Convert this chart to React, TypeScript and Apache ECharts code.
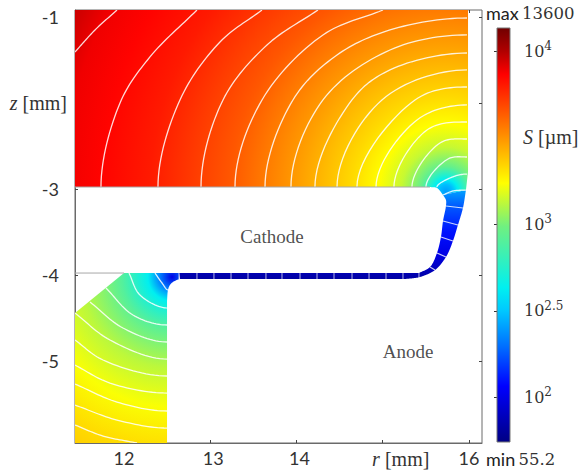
import React, { useEffect, useRef } from "react";
import * as echarts from "echarts";

const SERIF = "'Liberation Serif', serif";
const NUM = "'DejaVu Serif', serif";
const SANS = "Lato, sans-serif";

// colour scale: log10(S) -> colour
const scaleLog = [1.733, 2.064, 2.297, 2.5, 2.634, 2.988, 3.238, 3.547, 3.866, 4.0, 4.14];
const scaleHex = ["#000080", "#0000ff", "#0070ff", "#00c8ff", "#00f0f0", "#70f080", "#ffff00", "#ff8000", "#ff0000", "#b00000", "#6e0000"];

const rTicks = [12, 13, 14, 15, 16];
const zTicks = [-1, -2, -3, -4, -5];
const barTicks = [2, 2.5, 3, 4];
const barMin = 1.742;
const barMax = 4.134;

// region boundaries [r, z] in mm, as chains of boundary points
const upperRegion = [
  [[11.432, -0.919], [15.989, -0.919], [15.989, -2.8]],
  [[15.989, -2.8], [15.965, -3.012]],
  [[15.965, -3.012], [15.699, -3.07]],
  [[15.699, -3.07], [15.629, -2.988], [15.548, -2.977]],
  [[15.548, -2.977], [11.432, -2.977]],
];
const channelRegion = [
  [[15.965, -3.012], [15.93, -3.221], [15.872, -3.419], [15.814, -3.605], [15.733, -3.791], [15.606, -3.942], [15.432, -4.023], [15.258, -4.047]],
  [[15.258, -4.047], [12.649, -4.047]],
  [[12.638, -3.977], [15.42, -3.977]],
  [[15.42, -3.977], [15.548, -3.907], [15.629, -3.744], [15.675, -3.558], [15.699, -3.372], [15.733, -3.198], [15.733, -3.128], [15.699, -3.07]],
];
const lowerRegion = [
  [[12, -3.977], [12.638, -3.977], [12.638, -4.047]],
  [[12.638, -4.047], [12.568, -4.081], [12.533, -4.116], [12.51, -4.174], [12.499, -4.3]],
  [[12.499, -4.3], [12.499, -5.953]],
  [[12.499, -5.953], [11.432, -5.953], [11.432, -4.442]],
];

// S [um] versus distance [mm] from the electrode corner
const upperCentre = [15.733, -3.03];
const upperDistance = [0, 0.08, 0.14, 0.29, 0.52, 0.78, 1.1, 1.69, 2.5, 3.43, 4.0, 4.44, 4.8];
const upperS = [250, 300, 430, 890, 1380, 1740, 2140, 2950, 4470, 6310, 7240, 7800, 9100];
const lowerCentre = [12.557, -4.023];
const lowerDistance = [0, 0.15, 0.28, 0.58, 1.05, 1.51, 1.98, 2.27];
const lowerS = [100, 224, 427, 794, 1318, 1698, 2089, 2291];
const channelZ = [-3.03, -3.2, -3.5, -3.75, -3.95, -4.05];
const channelS = [250, 178, 126, 100, 76, 66];

// white iso-lines [r, z]
const cathodeTopZ = -2.977;
const anodeEdgeR = 15.977;
const upperContours = [
  [[11.432, -1.407], [11.664, -1.151], [11.919, -0.919]],
  [[11.733, -2.977], [11.954, -2.0], [12.301, -1.465], [12.846, -0.919]],
  [[12.394, -2.977], [12.649, -1.965], [13.113, -1.291], [13.6, -0.919]],
  [[12.893, -2.977], [13.148, -1.965], [13.658, -1.326], [14.249, -0.919]],
  [[13.287, -2.977], [13.6, -1.965], [14.307, -1.209], [15.003, -0.919]],
  [[13.635, -2.977], [13.959, -1.965], [14.47, -1.442], [15.084, -1.151], [15.977, -1.012]],
  [[13.936, -2.977], [14.307, -1.965], [15.084, -1.384], [15.977, -1.209]],
  [[14.214, -2.977], [14.643, -1.965], [15.084, -1.616], [15.977, -1.419]],
  [[14.47, -2.977], [14.991, -1.965], [15.977, -1.616]],
  [[14.701, -2.977], [15.374, -1.965], [15.977, -1.814]],
  [[14.922, -2.977], [15.397, -2.198], [15.977, -2.023]],
  [[15.13, -2.977], [15.513, -2.314], [15.977, -2.221]],
  [[15.339, -2.977], [15.664, -2.465], [15.977, -2.419]],
  [[15.501, -2.977], [15.757, -2.651], [15.977, -2.628]],
  [[15.629, -2.977], [15.78, -2.872], [15.977, -2.826]],
  [[15.699, -3.07], [15.814, -3.023], [15.965, -3.012]],
];
const lowerContours = [
  [[12.359, -3.977], [12.441, -4.093], [12.51, -4.174]],
  [[12.058, -3.977], [12.186, -4.233], [12.51, -4.384]],
  [[11.791, -4.151], [12.104, -4.465], [12.499, -4.581]],
  [[11.606, -4.314], [11.988, -4.616], [12.499, -4.779]],
  [[11.432, -4.442], [11.838, -4.756], [12.499, -4.977]],
  [[11.432, -4.756], [11.757, -4.988], [12.499, -5.174]],
  [[11.432, -5.047], [11.838, -5.256], [12.499, -5.372]],
  [[11.432, -5.267], [11.919, -5.477], [12.499, -5.581]],
  [[11.432, -5.512], [11.919, -5.686], [12.499, -5.779]],
  [[11.432, -5.744], [11.757, -5.872], [12.151, -5.953]],
];
const channelContours = [
  [[15.733, -3.198], [15.93, -3.221]],
  [[15.699, -3.372], [15.872, -3.419]],
  [[15.675, -3.558], [15.814, -3.605]],
  [[15.629, -3.744], [15.733, -3.791]],
  [[15.548, -3.907], [15.606, -3.942]],
];
const channelStationsR = [12.638, 12.846, 13.043, 13.241, 13.438, 13.646, 13.832, 14.041, 14.238, 14.435, 14.644, 14.841, 15.038, 15.235, 15.42];
const channelTopZ = -3.977;
const channelBottomZ = -4.047;
const edgeLines = [
  [[11.432, -3.977], [12, -3.977]],
  [[11.432, -2.977], [15.548, -2.977]],
];
const annotations = [
  { name: "Cathode", r: 13.716, z: -3.547 },
  { name: "Anode", r: 15.293, z: -4.895 },
];

function hexToRgb(h: string) {
  return [1, 3, 5].map((i) => parseInt(h.slice(i, i + 2), 16));
}
function colourOfLog(v: number) {
  if (v <= scaleLog[0]) return scaleHex[0];
  for (let i = 1; i < scaleLog.length; i++) {
    if (v <= scaleLog[i]) {
      const t = (v - scaleLog[i - 1]) / (scaleLog[i] - scaleLog[i - 1]);
      const a = hexToRgb(scaleHex[i - 1]);
      const b = hexToRgb(scaleHex[i]);
      return `rgb(${a.map((c, k) => Math.round(c + (b[k] - c) * t)).join(",")})`;
    }
  }
  return scaleHex[scaleHex.length - 1];
}
const colourOfS = (s: number) => colourOfLog(Math.log10(s));

function radialFill(api: any, centre: number[], dist: number[], vals: number[]) {
  const dMax = dist[dist.length - 1];
  const c = api.coord(centre);
  const e = api.coord([centre[0] + dMax, centre[1]]);
  const stops = dist.map((d, i) => ({ offset: d / dMax, color: colourOfS(vals[i]) }));
  return new echarts.graphic.RadialGradient(c[0], c[1], e[0] - c[0], stops, true);
}

// centripetal Catmull-Rom through pixel points, only used to draw a curve through the read points.
// mirrorStartY: the curve leaves its first point vertically; mirrorEndX: it reaches its last point horizontally.
function curveThrough(pts: number[][], mirrorStartY = false, mirrorEndX = false) {
  if (pts.length < 3) return pts.slice();
  const n = pts.length;
  const out: number[][] = [pts[0]];
  const head = mirrorStartY
    ? [pts[1][0], 2 * pts[0][1] - pts[1][1]]
    : [2 * pts[0][0] - pts[1][0], 2 * pts[0][1] - pts[1][1]];
  const tail = mirrorEndX
    ? [2 * pts[n - 1][0] - pts[n - 2][0], pts[n - 2][1]]
    : [2 * pts[n - 1][0] - pts[n - 2][0], 2 * pts[n - 1][1] - pts[n - 2][1]];
  const P = [head, ...pts, tail];
  const tj = (ti: number, a: number[], b: number[]) => ti + Math.sqrt(Math.hypot(b[0] - a[0], b[1] - a[1])) + 1e-6;
  const lerp = (a: number[], b: number[], ta: number, tb: number, t: number) => [
    a[0] + ((b[0] - a[0]) * (t - ta)) / (tb - ta),
    a[1] + ((b[1] - a[1]) * (t - ta)) / (tb - ta),
  ];
  for (let i = 0; i + 3 < P.length; i++) {
    const [p0, p1, p2, p3] = [P[i], P[i + 1], P[i + 2], P[i + 3]];
    const t0 = 0;
    const t1 = tj(t0, p0, p1);
    const t2 = tj(t1, p1, p2);
    const t3 = tj(t2, p2, p3);
    for (let k = 1; k <= 16; k++) {
      const t = t1 + ((t2 - t1) * k) / 16;
      const a1 = lerp(p0, p1, t0, t1, t);
      const a2 = lerp(p1, p2, t1, t2, t);
      const a3 = lerp(p2, p3, t2, t3, t);
      const b1 = lerp(a1, a2, t0, t2, t);
      const b2 = lerp(a2, a3, t1, t3, t);
      out.push(lerp(b1, b2, t1, t2, t));
    }
  }
  return out;
}

const regions = [
  { chains: upperRegion, fill: (api: any) => radialFill(api, upperCentre, upperDistance, upperS) },
  { chains: lowerRegion, fill: (api: any) => radialFill(api, lowerCentre, lowerDistance, lowerS) },
  {
    chains: channelRegion,
    fill: (api: any) => {
      const y0 = api.coord([15, channelZ[0]])[1];
      const y1 = api.coord([15, channelZ[channelZ.length - 1]])[1];
      const span = channelZ[channelZ.length - 1] - channelZ[0];
      const stops = channelZ.map((z, i) => ({ offset: (z - channelZ[0]) / span, color: colourOfS(channelS[i]) }));
      return new echarts.graphic.LinearGradient(0, y0, 0, y1, stops, true);
    },
  },
];

function regionPoints(chains: number[][][], api: any) {
  const out: number[][] = [];
  chains.forEach((ch) => {
    const px = ch.map((p) => api.coord(p));
    const isFrame = ch === upperRegion[0] || ch === lowerRegion[0] || ch === lowerRegion[3];
    out.push(...(isFrame ? px : curveThrough(px)));
  });
  return out;
}

const curves = [...upperContours, ...lowerContours];

function lineSeries(points: number[][], color: string, width: number, opacity = 1) {
  return {
    type: "line",
    xAxisIndex: 0,
    yAxisIndex: 0,
    data: points,
    showSymbol: false,
    symbol: "none",
    silent: true,
    lineStyle: { color, width, opacity },
    z: 5,
  };
}

export default function App() {
  const ref = useRef<HTMLDivElement>(null);
  useEffect(() => {
    document.body.style.margin = "0";
    const chart = echarts.init(ref.current!, undefined, { renderer: "svg" });
    const frame = "#6a6a6a";
    const option: any = {
      animation: false,
      backgroundColor: "#ffffff",
      grid: [
        { left: 75, top: 10, width: 407, height: 433, show: true, borderColor: frame, borderWidth: 1, backgroundColor: "transparent" },
        { left: 497, top: 28, width: 13, height: 414 },
      ],
      xAxis: [
        {
          type: "value", gridIndex: 0, position: "bottom", min: 11.432, max: 16.151,
          splitLine: { show: false },
          axisLine: { show: true, lineStyle: { color: frame } },
          axisTick: { show: true, inside: true, length: 3, customValues: rTicks, lineStyle: { color: "#444" } },
          axisLabel: {
            show: true, customValues: rTicks, margin: 6, color: "#333",
            formatter: (v: number) => (v === 15 ? "{i|r}{m| [mm]}" : v === 13 || v === 14 ? `{o|${v}}` : `{n|${v}}`),
            rich: {
              n: { fontFamily: SANS, fontSize: 18, color: "#333" },
              o: { fontFamily: SANS, fontSize: 18, color: "#333", padding: [0, 0, 0, 6] },
              i: { fontFamily: SERIF, fontStyle: "italic", fontSize: 20, color: "#333", padding: [0, 0, 0, 36] },
              m: { fontFamily: SERIF, fontSize: 20, color: "#333" },
            },
          },
        },
        {
          type: "value", gridIndex: 0, position: "top", min: 11.432, max: 16.151,
          splitLine: { show: false },
          axisLine: { show: false },
          axisTick: { show: true, inside: true, length: 3, customValues: rTicks, lineStyle: { color: "#444" } },
          axisLabel: { show: false },
        },
        { type: "value", gridIndex: 1, min: 0, max: 1, show: false },
      ],
      yAxis: [
        {
          type: "value", gridIndex: 0, position: "left", min: -5.953, max: -0.919,
          splitLine: { show: false },
          axisLine: { show: true, lineStyle: { color: frame } },
          axisTick: { show: true, inside: true, length: 3, customValues: zTicks, lineStyle: { color: "#444" } },
          axisLabel: {
            show: true, customValues: zTicks, margin: 8, color: "#333",
            formatter: (v: number) => (v === -2 ? "{i|z}{m| [mm]}" : `{n|${v}}`),
            rich: {
              n: { fontFamily: SANS, fontSize: 18, color: "#333", padding: [0, 8, 0, 0] },
              i: { fontFamily: SERIF, fontStyle: "italic", fontSize: 20, color: "#333" },
              m: { fontFamily: SERIF, fontSize: 20, color: "#333" },
            },
          },
        },
        {
          type: "value", gridIndex: 0, position: "right", min: -5.953, max: -0.919,
          splitLine: { show: false },
          axisLine: { show: false },
          axisTick: { show: true, inside: true, length: 3, customValues: zTicks, lineStyle: { color: "#444" } },
          axisLabel: { show: false },
        },
        {
          type: "value", gridIndex: 1, position: "right", min: barMin, max: barMax,
          splitLine: { show: false },
          axisLine: { show: false },
          axisTick: { show: true, inside: true, length: 3, customValues: barTicks, lineStyle: { color: "#333" } },
          axisLabel: {
            show: true, customValues: barTicks, margin: 14, color: "#333",
            formatter: (v: number) => `{b|10}{s|${v}}`,
            rich: {
              b: { fontFamily: NUM, fontSize: 16, color: "#333" },
              s: { fontFamily: NUM, fontSize: 12, color: "#333", padding: [0, 0, 10, 0] },
            },
          },
        },
        {
          type: "value", gridIndex: 1, position: "left", min: barMin, max: barMax,
          splitLine: { show: false },
          axisLine: { show: false },
          axisTick: { show: true, inside: true, length: 3, customValues: barTicks, lineStyle: { color: "#333" } },
          axisLabel: { show: false },
        },
      ],
      series: [
        {
          type: "custom",
          xAxisIndex: 0,
          yAxisIndex: 0,
          silent: true,
          clip: false,
          z: 1,
          data: regions.map((_, i) => [i]),
          encode: { x: [], y: [] },
          renderItem: (params: any, api: any) => {
            const reg = regions[params.dataIndex];
            return {
              type: "polygon",
              shape: { points: regionPoints(reg.chains, api) },
              style: { fill: reg.fill(api), stroke: null },
            };
          },
        },
        {
          type: "custom",
          xAxisIndex: 2,
          yAxisIndex: 2,
          silent: true,
          clip: false,
          z: 1,
          data: [[0]],
          encode: { x: [], y: [] },
          renderItem: (_p: any, api: any) => {
            const a = api.coord([0, barMax]);
            const b = api.coord([1, barMin]);
            const span = barMax - barMin;
            const stops = scaleLog
              .filter((v) => v > barMin && v < barMax)
              .map((v) => ({ offset: (barMax - v) / span, color: colourOfLog(v) }))
              .reverse();
            stops.unshift({ offset: 0, color: colourOfLog(barMax) });
            stops.push({ offset: 1, color: colourOfLog(barMin) });
            return {
              type: "rect",
              shape: { x: a[0], y: a[1], width: b[0] - a[0], height: b[1] - a[1] },
              style: {
                fill: new echarts.graphic.LinearGradient(0, 0, 0, 1, stops),
                stroke: "#777",
                lineWidth: 1,
              },
            };
          },
        },
        ...edgeLines.map((l) => lineSeries(l, "#a8a8a8", 1)),
        {
          type: "custom",
          xAxisIndex: 0,
          yAxisIndex: 0,
          silent: true,
          clip: true,
          z: 5,
          data: curves.map((_, i) => [i]),
          encode: { x: [], y: [] },
          renderItem: (params: any, api: any) => {
            const c = curves[params.dataIndex];
            const last = c[c.length - 1];
            const mirrorStart = c[0][1] === cathodeTopZ;
            const mirrorEnd = last[0] === anodeEdgeR || last[0] >= 12.499 && last[0] <= 12.51;
            return {
              type: "polyline",
              shape: { points: curveThrough(c.map((p) => api.coord(p)), mirrorStart, mirrorEnd) },
              style: { fill: null, stroke: "rgba(255,255,255,0.85)", lineWidth: 1.3 },
            };
          },
        },
        ...channelContours.map((l) => lineSeries(l, "#ffffff", 1.2, 0.8)),
        ...channelStationsR.map((r) => lineSeries([[r, channelTopZ], [r, channelBottomZ]], "#ffffff", 1, 0.7)),
        {
          type: "scatter",
          xAxisIndex: 0,
          yAxisIndex: 0,
          symbolSize: 0,
          silent: true,
          z: 6,
          data: annotations.map((a) => ({ value: [a.r, a.z], name: a.name })),
          label: {
            show: true,
            position: "inside",
            formatter: (p: any) => p.name,
            fontFamily: SERIF,
            fontSize: 19,
            color: "#222",
          },
        },
      ],
      graphic: [
        {
          type: "text", x: 486, y: 13,
          style: {
            text: "{a|max} {b|13600}",
            verticalAlign: "middle",
            rich: {
              a: { fontFamily: SANS, fontSize: 18, fill: "#222" },
              b: { fontFamily: NUM, fontSize: 16.5, fill: "#333" },
            },
          },
        },
        {
          type: "text", x: 486, y: 459,
          style: {
            text: "{a|min} {b|55.2}",
            verticalAlign: "middle",
            rich: {
              a: { fontFamily: SANS, fontSize: 18, fill: "#222" },
              b: { fontFamily: NUM, fontSize: 16.5, fill: "#333" },
            },
          },
        },
        {
          type: "text", x: 523, y: 137,
          style: {
            text: "{i|S}{b| [µm]}",
            verticalAlign: "middle",
            rich: {
              i: { fontFamily: SERIF, fontStyle: "italic", fontSize: 20, fill: "#333" },
              b: { fontFamily: SERIF, fontSize: 20, fill: "#333" },
            },
          },
        },
      ],
    };
    chart.setOption(option);
    return () => chart.dispose();
  }, []);
  return <div ref={ref} style={{ width: 581, height: 471 }} />;
}
